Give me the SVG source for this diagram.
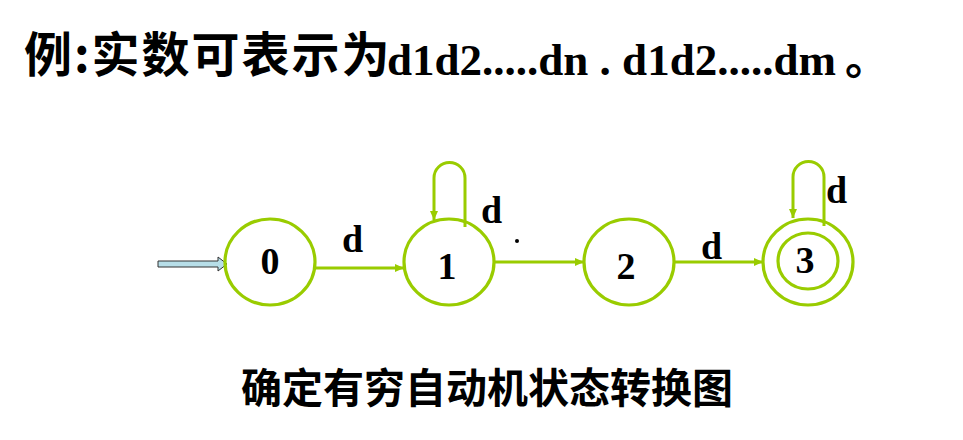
<svg xmlns="http://www.w3.org/2000/svg" width="963" height="440" viewBox="0 0 963 440">
<defs>
<marker id="ah" markerWidth="10" markerHeight="10" refX="9" refY="5" orient="auto" markerUnits="userSpaceOnUse">
<path d="M0,1 L9,5 L0,9 Z" fill="#99cc00"/>
</marker>
</defs>
<style>
.st{fill:none;stroke:#99cc00;stroke-width:3.2}
.ed{fill:none;stroke:#99cc00;stroke-width:3}
.num{font-family:"Liberation Serif","Times New Roman",serif;font-weight:bold;font-size:38px;fill:#000;text-anchor:middle}
.lab{font-family:"Liberation Serif","Times New Roman",serif;font-weight:bold;font-size:38px;fill:#000}
.cjk{font-family:"Noto Sans CJK SC",sans-serif;font-weight:bold}
.lat{font-family:"Liberation Serif","Times New Roman",serif;font-weight:bold}
</style>
<rect width="963" height="440" fill="#fff"/>
<text id="title" x="24" y="72"><tspan class="cjk" font-size="48" letter-spacing="2">例:实数可表示为</tspan><tspan class="lat" font-size="45" x="387" y="75">d1d2.....dn . d1d2.....dm</tspan><tspan class="cjk" font-size="44" x="845" y="75">。</tspan></text>
<g id="start">
<polygon points="158,261 218,261 218,257 227,264 218,271 218,267 158,267" fill="#b7dee8" stroke="#333" stroke-width="1"/>
</g>
<g id="connectors">
<line class="ed" x1="315" y1="268" x2="404" y2="268" marker-end="url(#ah)"/>
<line class="ed" x1="494" y1="262" x2="584" y2="262" marker-end="url(#ah)"/>
<line class="ed" x1="674" y1="262" x2="763" y2="262" marker-end="url(#ah)"/>
<path class="ed" d="M465,227 L465,178 A15.5,15.5 0 0 0 434,178 L434,220" marker-end="url(#ah)"/>
<path class="ed" d="M824,226 L824,177 A15.5,15.5 0 0 0 793,177 L793,218" marker-end="url(#ah)"/>
<text class="lab" x="342" y="252">d</text>
<text class="lab" x="481" y="223">d</text>
<circle cx="517" cy="241" r="2" fill="#000"/>
<text class="lab" x="701" y="259">d</text>
<text class="lab" x="826" y="203">d</text>
</g>
<g id="s0">
<ellipse class="st" cx="270" cy="262" rx="45" ry="43"/>
<text class="num" x="270" y="274">0</text>
</g>
<g id="s1">
<ellipse class="st" cx="449" cy="262" rx="45" ry="43"/>
<text class="num" x="447" y="279">1</text>
</g>
<g id="s2">
<ellipse class="st" cx="629" cy="262" rx="45" ry="43"/>
<text class="num" x="626" y="279">2</text>
</g>
<g id="s3">
<ellipse class="st" cx="808" cy="262" rx="45" ry="43"/>
<ellipse class="st" cx="808" cy="261" rx="30" ry="28"/>
<text class="num" x="805" y="273">3</text>
</g>
<text id="caption" class="cjk" x="487" y="403" font-size="41" text-anchor="middle">确定有穷自动机状态转换图</text>
</svg>
